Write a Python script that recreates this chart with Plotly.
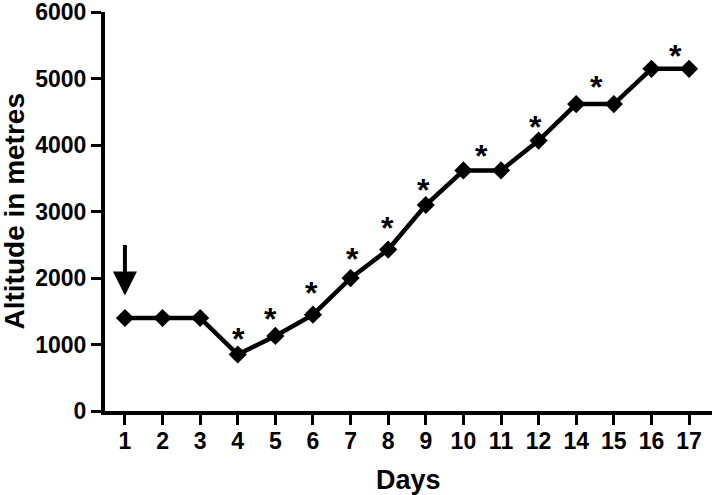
import plotly.graph_objects as go

days = ["1", "2", "3", "4", "5", "6", "7", "8", "9", "10", "11", "12", "14", "15", "16", "17"]
altitude = [1400, 1400, 1400, 850, 1130, 1450, 2000, 2430, 3100, 3620, 3620, 4070, 4620, 4620, 5150, 5150]

# asterisk markers: (category position, altitude level)
star_pos = [3.03, 3.86, 4.97, 6.05, 6.97, 7.93, 9.49, 10.93, 12.53, 14.63]
star_alt = [1210, 1510, 1890, 2410, 2870, 3440, 3965, 4400, 4990, 5470]

y_ticks = [0, 1000, 2000, 3000, 4000, 5000, 6000]

arrow_day_pos = 0
arrow_tail = 2520
arrow_tip = 1740

FONT = "Liberation Sans, Arial, sans-serif"

fig = go.Figure()
fig.add_trace(go.Scatter(
    x=list(range(len(days))), y=altitude, mode="lines+markers",
    line=dict(color="black", width=4.5),
    marker=dict(symbol="diamond", size=14, color="black"),
    showlegend=False, hoverinfo="skip", cliponaxis=False,
))

for xp, yp in zip(star_pos, star_alt):
    fig.add_annotation(x=xp, y=yp, text="<b>*</b>", showarrow=False,
                       font=dict(family=FONT, size=32, color="black"),
                       yshift=-8)

fig.add_annotation(x=arrow_day_pos, y=arrow_tip, ax=arrow_day_pos, ay=arrow_tail,
                   axref="x", ayref="y", xref="x", yref="y", text="",
                   showarrow=True, arrowhead=2, arrowsize=1.2, arrowwidth=4,
                   arrowcolor="black")

# axis titles
fig.add_annotation(xref="paper", yref="paper", x=0.5, y=0, yshift=-69, text="<b>Days</b>",
                   showarrow=False, font=dict(family=FONT, size=27, color="black"),
                   xanchor="center", yanchor="middle")
fig.add_annotation(xref="paper", yref="paper", x=0, y=0.5, xshift=-91, text="<b>Altitude in metres</b>",
                   showarrow=False, textangle=-90, font=dict(family=FONT, size=28, color="black"),
                   xanchor="center", yanchor="middle")

fig.update_layout(
    width=714, height=495,
    margin=dict(l=105, r=2, t=12, b=84, autoexpand=False),
    paper_bgcolor="white", plot_bgcolor="white",
    font=dict(family=FONT, color="black"),
    xaxis=dict(
        range=[-0.53, 15.61], tickmode="array",
        tickvals=list(range(len(days))), ticktext=[f"<b>{d}</b>" for d in days],
        showline=True, linecolor="black", linewidth=4,
        ticks="outside", ticklen=10, tickwidth=3, tickcolor="black",
        showgrid=False, zeroline=False, automargin=False,
        ticklabeloverflow="allow", ticklabelstandoff=-4,
        tickfont=dict(family=FONT, size=23, color="black"),
    ),
    yaxis=dict(
        range=[0, 6005], tickmode="array", tickvals=y_ticks,
        ticktext=[f"<b>{v}</b>" for v in y_ticks],
        showline=True, linecolor="black", linewidth=4,
        ticks="outside", ticklen=10, tickwidth=3, tickcolor="black",
        showgrid=False, zeroline=False, automargin=False,
        ticklabeloverflow="allow",
        tickfont=dict(family=FONT, size=23, color="black"),
    ),
)

fig.write_html("out.html", config={"displayModeBar": False},
               post_script="document.body.style.margin='0';")
